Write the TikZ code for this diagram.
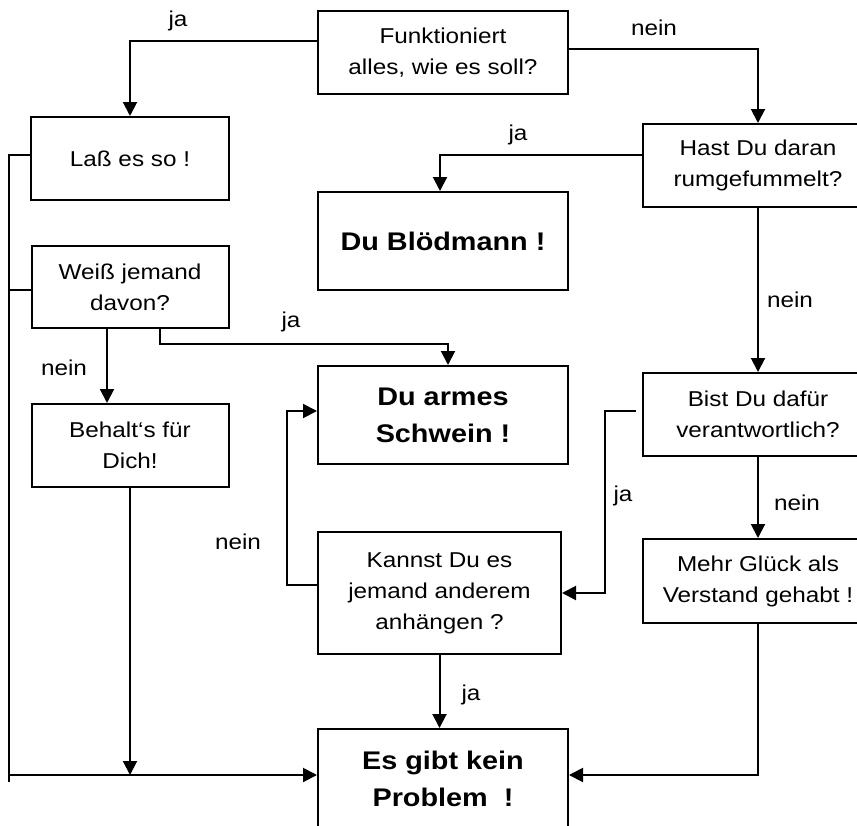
\documentclass[tikz,border=0pt]{standalone}
\usepackage{fontspec}
\setmainfont[FakeStretch=1.13]{Liberation Sans}
\usetikzlibrary{arrows.meta}
\tikzset{
  kasten/.style={draw,line width=2pt,inner sep=0pt,align=center,font=\fontsize{21.5}{31}\selectfont},
  fett/.style={kasten,font=\fontsize{25.5}{37}\selectfont\bfseries},
  linie/.style={line width=2pt},
  pfeil/.style={linie,-{Triangle[length=14pt,width=14pt]}},
  antwort/.style={font=\fontsize{21.5}{31}\selectfont}
}
\begin{document}
\begin{tikzpicture}[x=1pt,y=-1pt]
\clip (0,0) rectangle (857,825);
% Kaesten
\node[kasten,minimum width=250pt,minimum height=83pt] (fkt) at (443,52.5) {Funktioniert\\alles, wie es soll?};
\node[kasten,minimum width=198pt,minimum height=83pt] (lass) at (130,158.5) {Laß es so !};
\node[fett,minimum width=250pt,minimum height=98pt] (bloed) at (443,241) {Du Blödmann !};
\node[kasten,minimum width=230pt,minimum height=83pt] (hast) at (758,165.5) {Hast Du daran\\rumgefummelt?};
\node[kasten,minimum width=197pt,minimum height=82pt] (weiss) at (130,287) {Weiß jemand\\davon?};
\node[kasten,minimum width=197pt,minimum height=83pt] (behalt) at (130,445.5) {Behalt‘s für\\Dich!};
\node[fett,minimum width=250pt,minimum height=98pt] (armes) at (443,415) {Du armes\\Schwein !};
\node[kasten,minimum width=230pt,minimum height=83pt] (bist) at (758,414.5) {Bist Du dafür\\verantwortlich?};
\node[kasten,minimum width=243pt,minimum height=122pt] (kannst) at (439.5,593) {Kannst Du es\\jemand anderem\\anhängen ?};
\node[kasten,minimum width=230pt,minimum height=84pt] (mehr) at (758,581) {Mehr Glück als\\Verstand gehabt !};
\node[fett,minimum width=250pt,minimum height=100pt] (prob) at (443,779) {Es gibt kein\\Problem~~!};
% Antworten
\node[antwort] (ja1) at (178,21) {ja};
\node[antwort] (nein1) at (654,28) {nein};
\node[antwort] (ja2) at (518,135) {ja};
\node[antwort] (nein2) at (790,300) {nein};
\node[antwort] (ja3) at (291,322) {ja};
\node[antwort] (nein3) at (64,368) {nein};
\node[antwort] (nein4) at (238,542) {nein};
\node[antwort] (ja4) at (623,496) {ja};
\node[antwort] (nein5) at (797,503) {nein};
\node[antwort] (ja5) at (471,695) {ja};
% Verbindungen
\coordinate (unten) at (9,775);
\coordinate (ende) at (9,782);
\draw[pfeil] ([yshift=11.5pt]fkt.west) -| (lass.north);
\draw[pfeil] ([yshift=3.5pt]fkt.east) -| (hast.north);
\draw[pfeil] ([yshift=10.5pt]hast.west) -| ([xshift=-3pt]bloed.north);
\draw[pfeil] (hast.south) -- (bist.north);
\draw[linie] ([yshift=3.5pt]lass.west) -| (ende);
\draw[linie] ([yshift=-3pt]weiss.west) -- ([yshift=-3pt]weiss.west -| ende);
\draw[pfeil] ([xshift=-23pt]weiss.south) -- ([xshift=-23pt]behalt.north);
\draw[pfeil] ([xshift=30pt]weiss.south) -- ++(0,15) -| ([xshift=5pt]armes.north);
\draw[pfeil] (behalt.south) -- (behalt.south |- unten);
\draw[pfeil] ([yshift=8pt]kannst.west) -- ++(-30,0) |- ([yshift=4pt]armes.west);
\draw[pfeil] ([xshift=-6pt,yshift=3.5pt]bist.west) -- ++(-31,0) |- (kannst.east);
\draw[pfeil] (bist.south) -- (mehr.north);
\draw[pfeil] (kannst.south) -- (kannst.south |- prob.north);
\draw[pfeil] (mehr.south) |- (prob.east |- unten);
\draw[pfeil] (unten) -- (unten -| prob.west);
\end{tikzpicture}
\end{document}
